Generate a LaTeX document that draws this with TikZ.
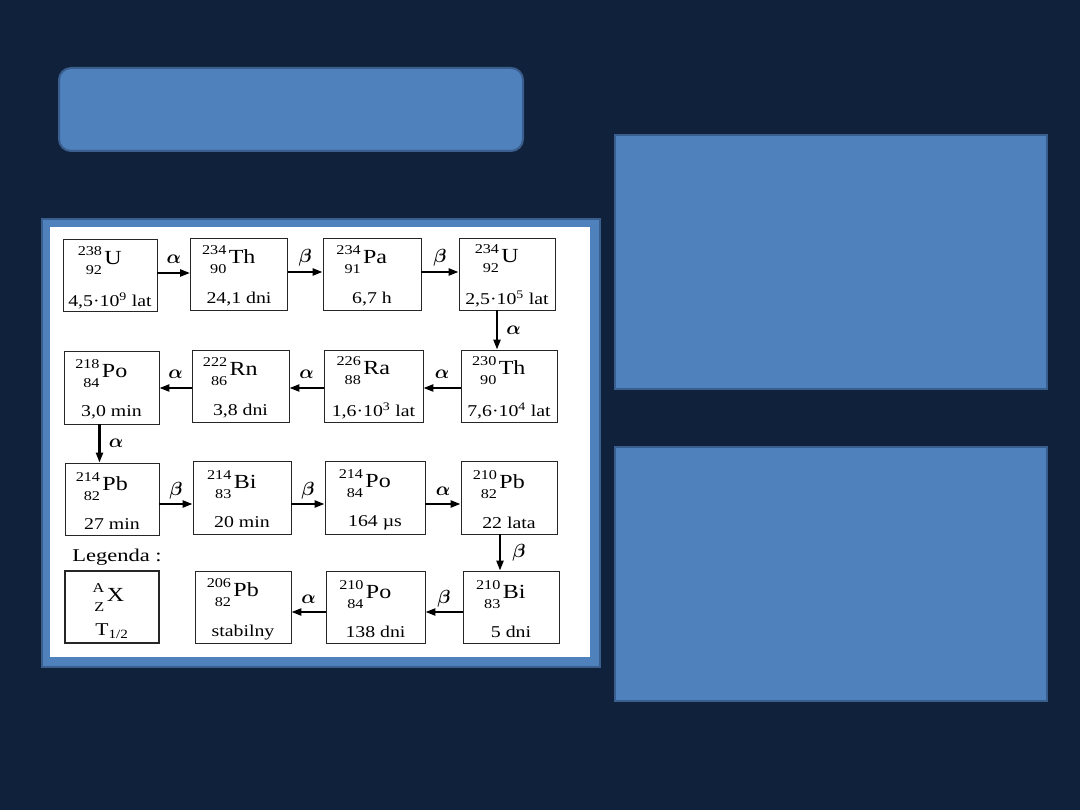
\documentclass[tikz,border=0pt]{standalone}
\usepackage{fix-cm}
\usepackage{bm}
\usepackage{graphicx}
\usepackage{fontspec}
\setmainfont{Liberation Serif}
\usetikzlibrary{arrows.meta}

\definecolor{slidebg}{HTML}{10223B}
\definecolor{panel}{HTML}{4F81BD}
\definecolor{panelline}{HTML}{3A5F8E}

\tikzset{
    nucbox/.style={
        draw=black!85, line width=0.8pt, fill=white,
        minimum width=96pt, minimum height=72pt, inner sep=0pt
    },
    decay/.style={
        -{Triangle[length=10pt,width=7pt]}, line width=2.2pt
    },
    ray/.style={font=\fontsize{19}{19}\selectfont}
}

% nuclide: mass number, atomic number, symbol
\newcommand{\nuc}[3]{\raisebox{-10pt}{\fontsize{13.5}{14}\selectfont\shortstack[r]{#1\\[7pt]#2}}\kern2pt{\fontsize{20}{22}\selectfont#3}}
\newcommand{\nbox}[4]{\raisebox{0pt}[\dimexpr\height+4pt\relax][\depth]{\scalebox{1.2}[1]{\shortstack{\nuc{#1}{#2}{#3}\kern17pt\\[15pt]{\fontsize{16.5}{18}\selectfont#4}}}}}

\begin{document}
\begin{tikzpicture}[x=1pt, y=-1pt]
	\fill[slidebg] (0,0) rectangle (1080,810);
	\useasboundingbox (0,0) rectangle (1080,810);
	
	% slide panels
	\draw[panelline, fill=panel, line width=2pt, rounded corners=12pt] (59,68) rectangle (523,151);
	\draw[panelline, fill=panel, line width=2pt] (615,135) rectangle (1047,389);
	\draw[panelline, fill=panel, line width=2pt] (615,447) rectangle (1047,701);
	\draw[panelline, fill=panel, line width=1.5pt] (42,219) rectangle (600,667);
	\fill[white] (50,227) rectangle (590,657);
	
	% decay chain
	\node[nucbox, minimum width=94pt] (U238) at (110,275.5) {\nbox{238}{92}{U}{4,5·10\textsuperscript{9} lat}};
	\node[nucbox, minimum width=97pt] (Th234) at (239,274) {\nbox{234}{90}{Th}{24,1 dni}};
	\node[nucbox, minimum width=98pt] (Pa234) at (372,274) {\nbox{234}{91}{Pa}{6,7 h}};
	\node[nucbox] (U234) at (507,274) {\nbox{234}{92}{U}{2,5·10\textsuperscript{5} lat}};
	
	\node[nucbox] (Th230) at (509,386) {\nbox{230}{90}{Th}{7,6·10\textsuperscript{4} lat}};
	\node[nucbox, minimum width=99pt] (Ra226) at (373.5,386) {\nbox{226}{88}{Ra}{1,6·10\textsuperscript{3} lat}};
	\node[nucbox, minimum width=97pt] (Rn222) at (240.5,386) {\nbox{222}{86}{Rn}{3,8 dni}};
	\node[nucbox, minimum width=95pt, minimum height=73pt] (Po218) at (111.5,387.5) {\nbox{218}{84}{Po}{3,0 min}};
	
	\node[nucbox, minimum width=94pt] (Pb214) at (112,499) {\nbox{214}{82}{Pb}{27 min}};
	\node[nucbox, minimum width=98pt, minimum height=73pt] (Bi214) at (242,497.5) {\nbox{214}{83}{Bi}{20 min}};
	\node[nucbox, minimum width=100pt, minimum height=73pt] (Po214) at (375,497.5) {\nbox{214}{84}{Po}{164 µs}};
	\node[nucbox, minimum height=73pt] (Pb210) at (509,497.5) {\nbox{210}{82}{Pb}{22 lata}};
	
	\node[nucbox] (Bi210) at (511,607) {\nbox{210}{83}{Bi}{5 dni}};
	\node[nucbox, minimum width=99pt] (Po210) at (375.5,607) {\nbox{210}{84}{Po}{138 dni}};
	\node[nucbox] (Pb206) at (243,607) {\nbox{206}{82}{Pb}{stabilny}};
	
	% legend
	\node[font=\fontsize{18}{20}\selectfont] (legtitle) at (117,557) {\scalebox{1.25}[1]{Legenda :}};
	\node[nucbox, minimum width=94pt, line width=1.6pt] (legend) at (112,607)
	    {\raisebox{0pt}[\dimexpr\height+8pt\relax][\depth]{\scalebox{1.2}[1]{\shortstack{\nuc{A}{Z}{X}\kern6pt\\[9pt]{\fontsize{18}{18}\selectfont T\textsubscript{1/2}}}}}};
	
	\draw[decay] ([yshift=2.5pt]U238.east) -- ([yshift=2.5pt]U238.east -| Th234.west) node[ray, midway, anchor=base, yshift=9pt] {$\bm\alpha$};
	\draw[decay] ([yshift=2pt]Th234.east) -- ([yshift=2pt]Th234.east -| Pa234.west) node[ray, midway, anchor=base, yshift=9pt] {$\bm\beta$};
	\draw[decay] ([yshift=2pt]Pa234.east) -- ([yshift=2pt]Pa234.east -| U234.west) node[ray, midway, anchor=base, yshift=9pt] {$\bm\beta$};
	\draw[decay] ([xshift=-10pt]U234.south) -- ([xshift=-10pt]U234.south |- Th230.north) node[ray, midway, right=5pt] {$\bm\alpha$};
	
	\draw[decay] ([yshift=-2pt]Th230.west) -- ([yshift=-2pt]Th230.west -| Ra226.east) node[ray, midway, anchor=base, yshift=9pt] {$\bm\alpha$};
	\draw[decay] ([yshift=-2pt]Ra226.west) -- ([yshift=-2pt]Ra226.west -| Rn222.east) node[ray, midway, anchor=base, yshift=9pt] {$\bm\alpha$};
	\draw[decay] ([yshift=-2pt]Rn222.west) -- ([yshift=-2pt]Rn222.west -| Po218.east) node[ray, midway, anchor=base, yshift=9pt] {$\bm\alpha$};
	\draw[decay] ([xshift=-12pt]Po218.south) -- ([xshift=-12pt]Po218.south |- Pb214.north) node[ray, midway, right=5pt] {$\bm\alpha$};
	
	\draw[decay] ([yshift=-5pt]Pb214.east) -- ([yshift=-5pt]Pb214.east -| Bi214.west) node[ray, midway, anchor=base, yshift=9pt] {$\bm\beta$};
	\draw[decay] ([yshift=-6.5pt]Bi214.east) -- ([yshift=-6.5pt]Bi214.east -| Po214.west) node[ray, midway, anchor=base, yshift=9pt] {$\bm\beta$};
	\draw[decay] ([yshift=-6.5pt]Po214.east) -- ([yshift=-6.5pt]Po214.east -| Pb210.west) node[ray, midway, anchor=base, yshift=9pt] {$\bm\alpha$};
	\draw[decay] ([xshift=-9pt]Pb210.south) -- ([xshift=-9pt]Pb210.south |- Bi210.north) node[ray, midway, right=8pt] {$\bm\beta$};
	
	\draw[decay] ([yshift=-5pt]Bi210.west) -- ([yshift=-5pt]Bi210.west -| Po210.east) node[ray, midway, anchor=base, yshift=9pt] {$\bm\beta$};
	\draw[decay] ([yshift=-5pt]Po210.west) -- ([yshift=-5pt]Po210.west -| Pb206.east) node[ray, midway, anchor=base, yshift=9pt] {$\bm\alpha$};
	
\end{tikzpicture}
\end{document}
